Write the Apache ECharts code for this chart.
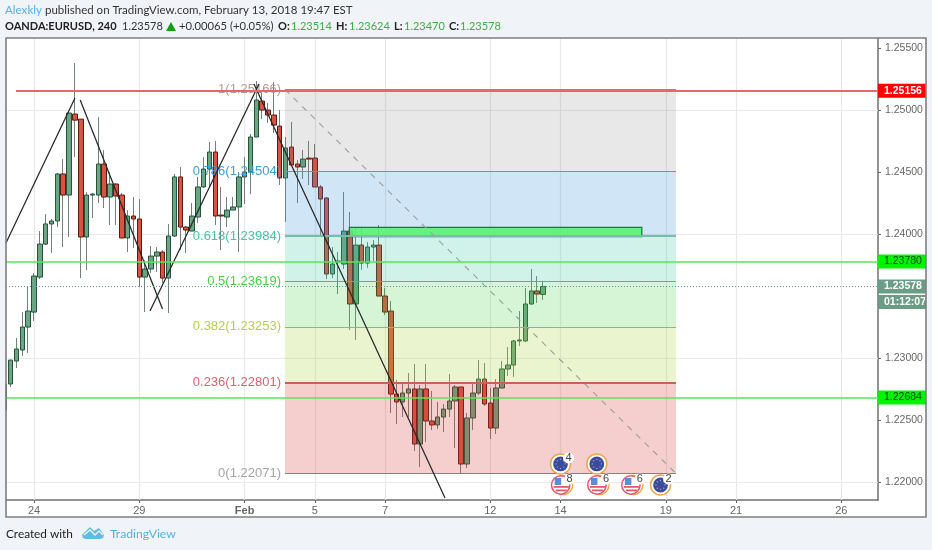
<!DOCTYPE html>
<html><head><meta charset="utf-8">
<style>html,body{margin:0;padding:0;background:#f0f3f8}#c{width:932px;height:550px}</style>
<script src="https://cdn.jsdelivr.net/npm/echarts@6/dist/echarts.min.js"></script>
</head><body><div id="c"></div>
<script>
const opens=[1.22582,1.22792,1.22977,1.23066,1.23251,1.23372,1.23654,1.23920,1.24082,1.24106,1.24485,1.24315,1.24968,1.24927,1.23977,1.24315,1.24315,1.24565,1.24299,1.24404,1.24315,1.23969,1.24146,1.24122,1.23654,1.23719,1.23823,1.23856,1.23646,1.23985,1.24461,1.24057,1.24025,1.24138,1.24380,1.24525,1.24662,1.24154,1.24138,1.24194,1.24219,1.24461,1.24501,1.24783,1.25073,1.25000,1.24960,1.24871,1.24453,1.24702,1.24565,1.24541,1.24613,1.24613,1.24380,1.24291,1.23679,1.23775,1.23759,1.24025,1.23437,1.23912,1.23767,1.23896,1.23912,1.23501,1.23380,1.22711,1.22647,1.22719,1.22752,1.22308,1.22752,1.22494,1.22462,1.22526,1.22590,1.22655,1.22768,1.22147,1.22518,1.22719,1.22832,1.22639,1.22437,1.22760,1.22913,1.22945,1.23139,1.23139,1.23437,1.23542,1.23514];
const closes=[1.22792,1.22985,1.23074,1.23251,1.23380,1.23662,1.23920,1.24082,1.24106,1.24485,1.24315,1.24976,1.24919,1.23977,1.24315,1.24323,1.24565,1.24299,1.24404,1.24307,1.23969,1.24146,1.24122,1.23654,1.23719,1.23823,1.23856,1.23646,1.23985,1.24461,1.24057,1.24033,1.24146,1.24380,1.24525,1.24662,1.24146,1.24146,1.24194,1.24219,1.24461,1.24501,1.24783,1.25081,1.25000,1.24960,1.24879,1.24453,1.24694,1.24557,1.24541,1.24605,1.24605,1.24380,1.24283,1.23679,1.23759,1.23783,1.24025,1.23437,1.23912,1.23767,1.23896,1.23912,1.23501,1.23372,1.22711,1.22647,1.22719,1.22752,1.22308,1.22752,1.22494,1.22462,1.22526,1.22590,1.22655,1.22768,1.22147,1.22518,1.22719,1.22832,1.22631,1.22437,1.22760,1.22913,1.22945,1.23139,1.23147,1.23437,1.23542,1.23517,1.23578];
const lows=[1.22582,1.22768,1.22921,1.23018,1.23042,1.23300,1.23638,1.23912,1.23848,1.24057,1.23896,1.23977,1.24621,1.23646,1.23711,1.24130,1.24251,1.24210,1.24073,1.24073,1.23969,1.23856,1.23888,1.23574,1.23372,1.23687,1.23695,1.23606,1.23364,1.23977,1.23872,1.23848,1.24025,1.24090,1.24372,1.24380,1.24073,1.23872,1.24057,1.24194,1.23856,1.24243,1.24323,1.24783,1.24927,1.24896,1.24815,1.24396,1.24098,1.24557,1.24251,1.24445,1.24396,1.24380,1.23993,1.23638,1.23646,1.23517,1.23719,1.23227,1.23147,1.23711,1.23727,1.23783,1.23501,1.23348,1.22558,1.22470,1.22526,1.22526,1.22252,1.22123,1.22324,1.22421,1.22429,1.22405,1.22526,1.22276,1.22067,1.22115,1.22421,1.22703,1.22615,1.22349,1.22389,1.22760,1.22857,1.22849,1.23098,1.23131,1.23429,1.23445,1.23470];
const highs=[1.22792,1.22985,1.23163,1.23372,1.23574,1.23687,1.24025,1.24162,1.24122,1.24493,1.24605,1.24984,1.25379,1.24927,1.24339,1.24331,1.24943,1.24678,1.24501,1.24412,1.24331,1.24194,1.24299,1.24283,1.23790,1.23904,1.23896,1.23872,1.24082,1.24485,1.24541,1.24065,1.24251,1.24461,1.24621,1.24743,1.24751,1.24380,1.24299,1.24299,1.24501,1.24621,1.24807,1.25234,1.25145,1.25057,1.25226,1.25000,1.24783,1.24904,1.24597,1.24678,1.24751,1.24726,1.24396,1.24299,1.23896,1.23856,1.24339,1.24178,1.24057,1.24057,1.23936,1.23952,1.24073,1.23566,1.23461,1.22824,1.22808,1.22881,1.22953,1.22784,1.22953,1.22736,1.22647,1.22631,1.22873,1.22784,1.22768,1.22558,1.22808,1.22985,1.22961,1.22760,1.22832,1.22977,1.23090,1.23147,1.23380,1.23566,1.23719,1.23662,1.23624];

const xTickIdx=[5,23,41,53,65,83,95,113,125,143];
const xTickLabels=['24','29','Feb','5','7','12','14','19','21','26'];
const yGrid=[1.255,1.25,1.245,1.24,1.235,1.23,1.225,1.22];
const yLabels=[1.255,1.25,1.245,1.24,1.23,1.225,1.22];

const fibLevels=[1,0.786,0.618,0.5,0.382,0.236,0];
const fibPrices=[1.25166,1.24504,1.23984,1.23619,1.23253,1.22801,1.22071];
const fibText=['#b59a9a','#3f9fd8','#3fc8a2','#48d048','#b4d050','#e4606c','#a4a4a4'];
const fibLine=['#9a8a8a','#4a9fd4','#78bdaa','#4ec24e','#96c03c','#c76060','#8a8080'];
const fibWidth=[1,1,2,1,1,2,1];
const fibFill=['rgba(120,115,115,.16)','rgba(60,150,220,.24)','rgba(50,200,160,.23)','rgba(70,210,70,.22)','rgba(170,210,60,.25)','rgba(215,60,60,.25)'];
const fibStart=47.9, fibEnd=114.74;

const zigzagLegs=[[[0.21,1.23929],[12.0,1.25097]],[[12.9,1.25081],[26.97,1.23397]],[[24.83,1.23381],[43.46,1.2521]],[[42.6,1.2521],[75.26,1.21874]]];
const zoneBox=[58.9,108.9,1.24055,1.23979];
const redLevel=1.25156, redStart=1.92;
const greenLevels=[1.2378,1.22684];
const lastPrice=1.23578, countdown='01:12:07', countdownLevel=1.23453;

const eventX=[95,101.2,95.2,101.4,107.2,112.1];
const eventP=[1.22148,1.22148,1.21978,1.21978,1.21978,1.21978];
const eventKind=[0,0,1,1,1,0];
const eventCount=['4','','8','6','6','2'];

const xMin=0.214,xMax=149.27,yMin=1.21857,yMax=1.25581;
const AX='"Liberation Sans",Arial,sans-serif', HD='Lato,"Open Sans",sans-serif';

function tag(text,bg,color,bold){return {show:true,position:'end',distance:0,formatter:text,backgroundColor:bg,color:color,fontFamily:AX,fontSize:10.5,fontWeight:bold?'bold':'normal',width:42,height:14,lineHeight:14,padding:[0,0,0,6],align:'left',verticalAlign:'middle'};}

function renderIcon(params,api){
  const p=api.coord([api.value(0),api.value(1)]),cx=p[0],cy=p[1];
  const kind=eventKind[params.dataIndex],n=eventCount[params.dataIndex],ch=[];
  if(kind===0){
    ch.push({type:'circle',shape:{cx,cy,r:10},style:{fill:'#fff',stroke:'#f0a548',lineWidth:1.5}});
    ch.push({type:'circle',shape:{cx,cy,r:7.4},style:{fill:'#3c4a9c'}});
    [[0,-4.5],[3.2,-3.2],[4.5,0],[3.2,3.2],[0,4.5],[-3.2,3.2],[-4.5,0],[-3.2,-3.2]].forEach(d=>ch.push({type:'circle',shape:{cx:cx+d[0],cy:cy+d[1],r:.7},style:{fill:'#9aa8c8'}}));
  }else{
    ch.push({type:'circle',shape:{cx:cx+1.5,cy,r:9.6},style:{fill:'#fff',stroke:'#f0a548',lineWidth:1.3}});
    ch.push({type:'circle',shape:{cx:cx-1,cy,r:9.2},style:{fill:'#fff',stroke:'#e8566a',lineWidth:1.5}});
    ch.push({type:'rect',shape:{x:cx-7,y:cy-7,width:6.5,height:7},style:{fill:'#5a8fd8'}});
    ch.push({type:'rect',shape:{x:cx-8,y:cy+1,width:16,height:1.8},style:{fill:'#e8566a'}});
    ch.push({type:'rect',shape:{x:cx-6,y:cy+4.5,width:11,height:1.8},style:{fill:'#e8566a'}});
  }
  if(n){
    ch.push({type:'circle',shape:{cx:cx+8,cy:cy-6,r:5.5},style:{fill:'#fff'}});
    ch.push({type:'text',style:{text:n,x:cx+8,y:cy-6,fill:'#444',font:'11px '+AX,align:'center',verticalAlign:'middle'}});
  }
  return {type:'group',children:ch};
}

const areaData=fibFill.map((c,i)=>[{coord:[fibStart,fibPrices[i]],itemStyle:{color:c,borderWidth:0}},{coord:[fibEnd,fibPrices[i+1]]}]);
const fibLines=fibPrices.map((p,i)=>[{coord:[fibStart,p],lineStyle:{color:fibLine[i],width:fibWidth[i],type:'solid'},
  label:{show:true,position:'start',distance:4,formatter:fibLevels[i]+'('+p.toFixed(5)+')',color:fibText[i],fontFamily:AX,fontSize:13}},{coord:[fibEnd,p]}]);

const option={
 animation:false,backgroundColor:'#f0f3f8',
 grid:{left:6,top:38,right:54,bottom:50,containLabel:false},
 xAxis:{type:'value',min:xMin,max:xMax,splitLine:{show:false},
   axisLine:{onZero:false,lineStyle:{color:'#6f6f6f',width:1.5}},
   axisTick:{customValues:xTickIdx,length:3,lineStyle:{color:'#666'}},
   axisLabel:{customValues:xTickIdx,margin:5,color:'#666',fontFamily:AX,fontSize:11,
     formatter:v=>{const s=xTickLabels[xTickIdx.indexOf(v)];return s==='Feb'?'{b|Feb}':s;},rich:{b:{fontWeight:'bold',color:'#666',fontFamily:AX,fontSize:11}}}},
 yAxis:{type:'value',position:'right',min:yMin,max:yMax,scale:true,splitLine:{show:false},
   axisLine:{show:true,onZero:false,lineStyle:{color:'#6f6f6f',width:1.5}},
   axisTick:{customValues:yLabels,length:3,lineStyle:{color:'#666'}},
   axisLabel:{customValues:yLabels,margin:7,color:'#666',fontFamily:AX,fontSize:10.5,formatter:v=>v.toFixed(5)}},
 series:[
  {type:'candlestick',name:'wicks',barWidth:1,z:2,
   data:opens.map((o,i)=>[i,o,closes[i],lows[i],highs[i]]),
   itemStyle:{color:'rgba(0,0,0,0)',color0:'rgba(0,0,0,0)',borderColor:'#74807a',borderColor0:'#74807a',borderWidth:1},
   markLine:{silent:true,symbol:'none',z:1,animation:false,label:{show:false},lineStyle:{color:'#e9e9e9',width:1.2,type:'solid'},
     data:xTickIdx.map(v=>({xAxis:v})).concat(yGrid.map(v=>({yAxis:v})))}},
  {type:'candlestick',name:'bodies',barWidth:5,z:2.5,
   data:opens.map((o,i)=>[i,o,closes[i],Math.min(o,closes[i]),Math.max(o,closes[i])]),
   itemStyle:{color:'#6ba583',color0:'#d75442',borderColor:'#225437',borderColor0:'#5b1a13',borderWidth:1}},
  {type:'line',name:'fib',z:6,symbol:'none',data:[[fibStart,fibPrices[0]],[fibEnd,fibPrices[6]]],
   lineStyle:{color:'#9c9c9c',width:1.1,type:[6,6]},
   markArea:{silent:true,z:3,animation:false,data:areaData},
   markLine:{silent:true,symbol:'none',z:4,animation:false,data:fibLines}},
  {type:'line',name:'zone',z:6,symbol:'none',data:[],
   markArea:{silent:true,z:4,animation:false,data:[[{coord:[zoneBox[0],zoneBox[2]],itemStyle:{color:'rgba(88,242,112,.88)',borderColor:'#17743a',borderWidth:1.2}},{coord:[zoneBox[1],zoneBox[3]]}]]}},
  ...zigzagLegs.map(d=>({type:'line',z:7,symbol:'none',data:d,lineStyle:{color:'#24282a',width:1.25}})),
  {type:'line',name:'levels',z:8,symbol:'none',data:[],
   markLine:{silent:true,symbol:'none',z:8,animation:false,data:[
     [{coord:[redStart,redLevel],lineStyle:{color:'#e26a64',width:2,type:'solid'},label:tag(redLevel.toFixed(5),'#ff0000','#fff',true)},{coord:[xMax,redLevel]}],
     ...greenLevels.map(v=>[{coord:[xMin,v],lineStyle:{color:'#57e65a',width:1.5,type:'solid'},label:tag(v.toFixed(5),'#00f400','#14401c',false)},{coord:[xMax,v]}]),
     [{coord:[xMin,lastPrice],lineStyle:{color:'#5f9a82',width:1,type:[1,2]},label:tag(lastPrice.toFixed(5),'#6b9d86','#fff',true)},{coord:[xMax,lastPrice]}],
     [{coord:[xMax-.01,countdownLevel],lineStyle:{color:'rgba(0,0,0,0)',width:1},label:tag(countdown,'#6b9d86','#fff',true)},{coord:[xMax,countdownLevel]}]
   ]}},
  {type:'custom',name:'events',z:9,clip:false,renderItem:renderIcon,data:eventX.map((x,i)=>[x,eventP[i]])}
 ],
 graphic:[
  {type:'rect',z:-5,silent:true,shape:{x:6,y:38,width:920,height:479},style:{fill:'#fff'}},
  {type:'rect',z:19,silent:true,shape:{x:0,y:38,width:5.5,height:479},style:{fill:'#f0f3f8'}},
  {type:'rect',z:20,silent:true,shape:{x:6,y:38,width:920,height:479},style:{fill:'none',stroke:'#7f7f7f',lineWidth:1.6}},
  ...[
   [5,10,'Alexkly','#55b1e8','normal',11.6],
   [45,10,'published on TradingView.com, February 13, 2018 19:47 EST','#333','normal',11.5],
   [5,26,'OANDA:EURUSD, 240','#222','bold',11],
   [122,26,'1.23578','#333','normal',11],
   [179,26,'+0.00065 (+0.05%)','#333','normal',11.2],
   [278,26,'O:','#222','bold',11],[291,26,'1.23514','#3fae3f','normal',11],
   [336,26,'H:','#222','bold',11],[349,26,'1.23624','#3fae3f','normal',11],
   [394,26,'L:','#222','bold',11],[404,26,'1.23470','#3fae3f','normal',11],
   [449,26,'C:','#222','bold',11],[460,26,'1.23578','#3fae3f','normal',11],
   [6,534,'Created with','#222','normal',11.8],
   [110,534,'TradingView','#55b1e0','normal',12.2]
  ].map(t=>({type:'text',z:21,silent:true,x:t[0],y:t[1],style:{text:t[2],fill:t[3],font:t[4]+' '+t[5]+'px '+HD,verticalAlign:'middle',align:'left'}})),
  {type:'polygon',z:21,silent:true,shape:{points:[[166,31],[171,22],[176,31]]},style:{fill:'#12a012'}},
  {type:'polygon',z:21,silent:true,shape:{points:[[82,535],[90,527],[94,531],[99,528],[104,535],[103,538],[100,539],[86,539],[83,538]]},style:{fill:'#5ebbe2'}},
  {type:'polyline',z:22,silent:true,shape:{points:[[84,535],[90,530],[95,535],[99,531],[103,535]]},style:{fill:'none',stroke:'#f0f3f8',lineWidth:1.3}}
 ]
};
const chart=echarts.init(document.getElementById('c'),null,{renderer:'canvas'});
chart.setOption(option);
</script></body></html>
